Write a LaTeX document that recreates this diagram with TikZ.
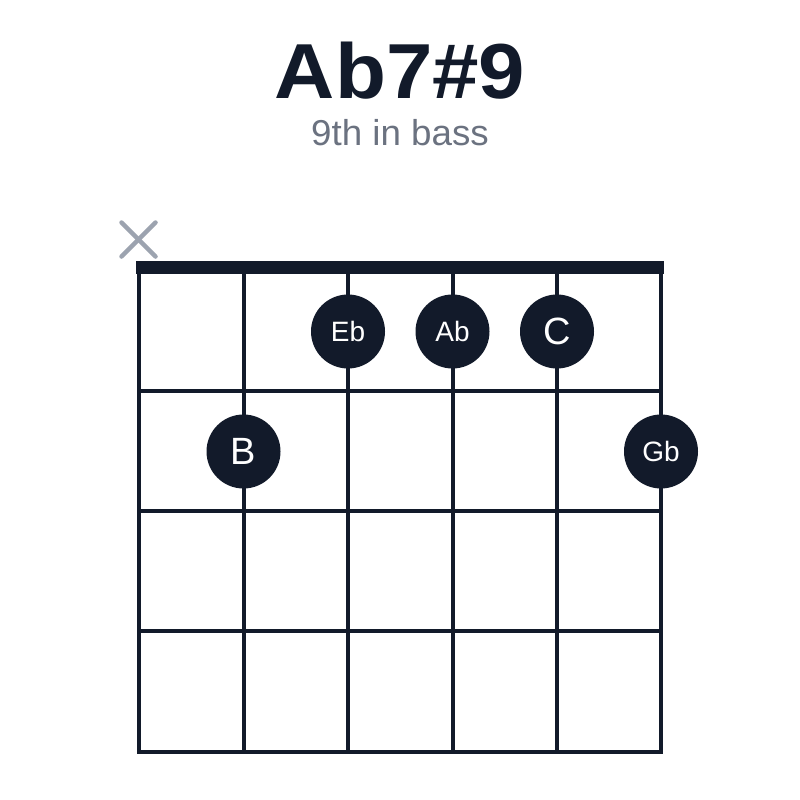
\documentclass[tikz,border=0pt]{standalone}
\usepackage{fontspec}
\setmainfont{Liberation Sans}
\usetikzlibrary{calc}
\definecolor{ink}{HTML}{121A2A}
\definecolor{muted}{HTML}{6B7280}
\definecolor{xgray}{HTML}{9CA3AF}
\begin{document}
\begin{tikzpicture}[x=1pt,y=-1pt,
  gridline/.style={draw=ink,line width=4pt},
  notedot/.style={circle,fill=ink,minimum size=74pt,inner sep=0pt,text=white},
  bignote/.style={notedot,font=\fontsize{38}{38}\selectfont},
  smallnote/.style={notedot,font=\fontsize{28}{28}\selectfont},
  mutex/.style={draw=xgray,line width=4.5pt,line cap=round}]
\useasboundingbox (0,0) rectangle (800,800);
\fill[white] (0,0) rectangle (800,800);
% title
\node[anchor=base,text=ink,font=\fontsize{78}{78}\selectfont\bfseries,xscale=1.07] (title) at (400,98) {Ab7\#9};
\node[anchor=base,text=muted,font=\fontsize{36}{36}\selectfont,xscale=1.02] (subtitle) at (400,145) {9th in bass};
% strings
\foreach \x in {139,243.5,348,452.5,557,661}
  \draw[gridline] (\x,268) -- (\x,753.5);
% frets
\foreach \y in {391,511,631,751.5}
  \draw[gridline] (137,\y) -- (663,\y);
% nut
\fill[ink] (136,261) rectangle (664,274);
% muted string
\coordinate (xc) at (138.5,239.5);
\draw[mutex] ($(xc)+(-17,-17)$) -- ($(xc)+(17,17)$);
\draw[mutex] ($(xc)+(-17,17)$) -- ($(xc)+(17,-17)$);
% notes
\node[smallnote] (eb) at (348,331.5) {Eb};
\node[smallnote] (ab) at (452.5,331.5) {Ab};
\node[bignote] (c) at (557,331.5) {C};
\node[bignote] (b) at (243.5,451.5) {B};
\node[smallnote] (gb) at (661,451.5) {Gb};
\end{tikzpicture}
\end{document}
